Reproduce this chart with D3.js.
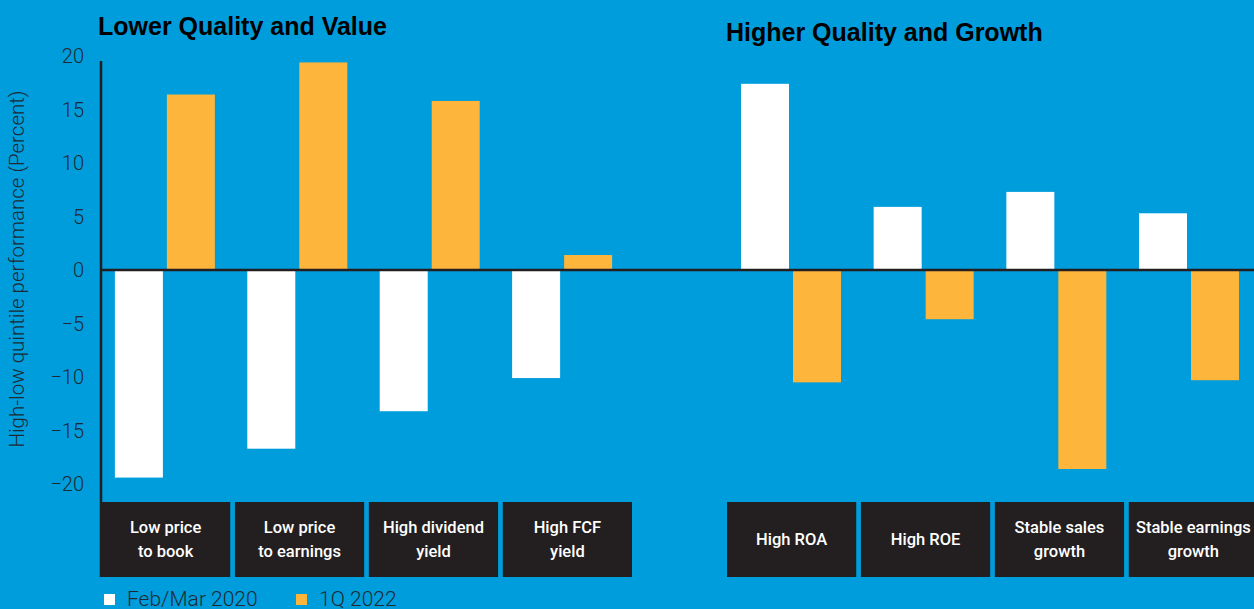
<!doctype html>
<html>
<head>
  <script src="https://cdnjs.cloudflare.com/ajax/libs/d3/7.8.5/d3.min.js"></script>
  <style>
    html, body { margin: 0; padding: 0; background: #009ddc; }
    svg { display: block; }
  </style>
</head>
<body>
  <svg id="chart" width="1254" height="609"></svg>
<script>
  // data
  var leftCats = ["Low price|to book", "Low price|to earnings", "High dividend|yield", "High FCF|yield"];
  var rightCats = ["High ROA", "High ROE", "Stable sales|growth", "Stable earnings|growth"];
  var leftFeb = [-19.4, -16.7, -13.2, -10.1];
  var leftQ1 = [16.4, 19.4, 15.8, 1.4];
  var rightFeb = [17.4, 5.9, 7.3, 5.3];
  var rightQ1 = [-10.5, -4.6, -18.6, -10.3];
  var yTicks = [20, 15, 10, 5, 0, -5, -10, -15, -20];
  var seriesNames = ["Feb/Mar 2020", "1Q 2022"];

  var colFeb = "#ffffff", colQ1 = "#fdb53b", dark = "#231f20";

  var svg = d3.select("#chart");

  var y = d3.scaleLinear().domain([-20, 20]).range([484, 56]);

  // y axis
  var axis = svg.append("g");
  axis.append("line")
    .attr("x1", 101).attr("x2", 101)
    .attr("y1", 61).attr("y2", 577)
    .attr("stroke", dark).attr("stroke-width", 2.5);
  axis.selectAll("text.tick").data(yTicks).enter().append("text")
    .attr("class", "tick")
    .attr("x", 84)
    .attr("y", function(d) { return y(d); })
    .attr("dy", "0.35em")
    .attr("text-anchor", "end")
    .attr("font-family", "Roboto")
    .attr("font-weight", 300)
    .attr("font-size", 20)
    .attr("fill", "#1e2a33")
    .text(function(d) { return d < 0 ? "\u2212" + Math.abs(d) : d; });

  svg.append("text")
    .attr("transform", "translate(24,269) rotate(-90)")
    .attr("text-anchor", "middle")
    .attr("font-family", "Roboto")
    .attr("font-weight", 300)
    .attr("font-size", 20.5)
    .attr("fill", "#1e2a33")
    .text("High-low quintile performance (Percent)");

  function panel(cats, feb, q1, x0, x1, xb1) {
    var x = d3.scaleBand().domain(cats).range([x0, x1]).paddingInner(0.035);
    // bars sit on a slightly tighter band than the label boxes
    var xb = d3.scaleBand().domain(cats).range([x0, xb1]).paddingInner(0.035);
    var g = svg.append("g");
    var bw = 48, gap = 4;
    cats.forEach(function(c, i) {
      var cx = x(c) + x.bandwidth() / 2;
      var bx = xb(c) + xb.bandwidth() / 2;
      var vals = [feb[i], q1[i]];
      vals.forEach(function(v, j) {
        g.append("rect")
          .attr("x", j == 0 ? bx - bw - gap / 2 : bx + gap / 2)
          .attr("width", bw)
          .attr("y", y(Math.max(0, v)))
          .attr("height", Math.abs(y(v) - y(0)))
          .attr("fill", j == 0 ? colFeb : colQ1);
      });
      g.append("rect")
        .attr("x", x(c)).attr("y", 502)
        .attr("width", x.bandwidth()).attr("height", 75)
        .attr("fill", dark);
      var lines = c.split("|");
      var t = g.append("text")
        .attr("x", cx)
        .attr("text-anchor", "middle")
        .attr("font-family", "Roboto")
        .attr("font-weight", 500)
        .attr("font-size", 16.5)
        .attr("fill", "#ffffff");
      lines.forEach(function(l, k) {
        t.append("tspan")
          .attr("x", cx)
          .attr("y", 539.5 + (k - (lines.length - 1) / 2) * 24)
          .attr("dy", "0.35em")
          .text(l);
      });
    });
  }

  panel(leftCats, leftFeb, leftQ1, 101, 632, 626);
  panel(rightCats, rightFeb, rightQ1, 727, 1258, 1253);

  // zero line
  svg.append("line")
    .attr("x1", 101).attr("x2", 1254)
    .attr("y1", y(0)).attr("y2", y(0))
    .attr("stroke", dark).attr("stroke-width", 2.5);

  // titles
  svg.append("text")
    .attr("x", 98).attr("y", 35)
    .attr("font-family", "Liberation Sans")
    .attr("font-weight", "bold")
    .attr("font-size", 25)
    .attr("fill", "#000")
    .text("Lower Quality and Value");
  svg.append("text")
    .attr("x", 726).attr("y", 41)
    .attr("font-family", "Liberation Sans")
    .attr("font-weight", "bold")
    .attr("font-size", 25)
    .attr("fill", "#000")
    .text("Higher Quality and Growth");

  // legend
  var leg = svg.append("g");
  var legX = [104, 296];
  seriesNames.forEach(function(s, i) {
    leg.append("rect")
      .attr("x", legX[i]).attr("y", 594)
      .attr("width", 11).attr("height", 11)
      .attr("fill", i == 0 ? colFeb : colQ1);
    leg.append("text")
      .attr("x", legX[i] + 23).attr("y", 599)
      .attr("dy", "0.35em")
      .attr("font-family", "Roboto")
      .attr("font-weight", 300)
      .attr("font-size", 21)
      .attr("fill", "#1e2a33")
      .text(s);
  });
</script>
</body>
</html>
